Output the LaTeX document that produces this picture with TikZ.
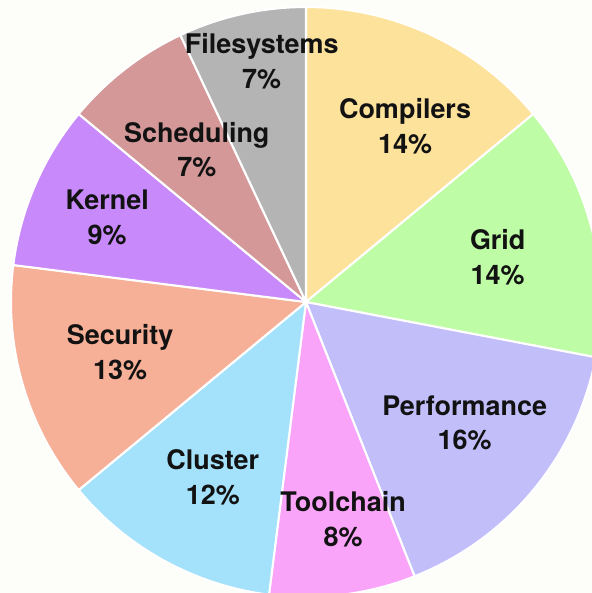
\documentclass[tikz,border=0pt]{standalone}
\usepackage{fontspec}
\setsansfont{TeX Gyre Heros}
\usepackage{tikz}
\usetikzlibrary{positioning}

\definecolor{bgcol}{HTML}{FDFDF9}
\definecolor{compcol}{HTML}{FDE29C}
\definecolor{gridcol}{HTML}{BEFCA5}
\definecolor{perfcol}{HTML}{C1BEFA}
\definecolor{toolcol}{HTML}{F9A4F8}
\definecolor{clustcol}{HTML}{A4E1FA}
\definecolor{seccol}{HTML}{F7B098}
\definecolor{kerncol}{HTML}{C889FA}
\definecolor{schedcol}{HTML}{D49898}
\definecolor{fscol}{HTML}{B4B4B4}
\definecolor{txtcol}{HTML}{121212}

\begin{document}
\begin{tikzpicture}[
  slice/.style={draw=white, line width=1pt, line join=round},
  slicelabel/.style={font=\sffamily\bfseries\fontsize{13}{16.8}\selectfont, text=txtcol, align=center, inner sep=0pt}
]
%\draw[help lines] (-5,-5) grid (5,5);
\clip (-5.186,-4.932) rectangle (4.847,5.119);
\fill [bgcol] (-5.186,-4.932) rectangle (4.847,5.119);

\coordinate (O) at (0,0);
\filldraw [slice, fill=compcol] (O) -- (90:5) arc [start angle=90, end angle=39.6, radius=5] -- cycle;
\filldraw [slice, fill=gridcol] (O) -- (39.6:5) arc [start angle=39.6, end angle=-10.8, radius=5] -- cycle;
\filldraw [slice, fill=perfcol] (O) -- (-10.8:5) arc [start angle=-10.8, end angle=-68.4, radius=5] -- cycle;
\filldraw [slice, fill=toolcol] (O) -- (-68.4:5) arc [start angle=-68.4, end angle=-97.2, radius=5] -- cycle;
\filldraw [slice, fill=clustcol] (O) -- (-97.2:5) arc [start angle=-97.2, end angle=-140.4, radius=5] -- cycle;
\filldraw [slice, fill=seccol] (O) -- (-140.4:5) arc [start angle=-140.4, end angle=-187.2, radius=5] -- cycle;
\filldraw [slice, fill=kerncol] (O) -- (-187.2:5) arc [start angle=-187.2, end angle=-219.6, radius=5] -- cycle;
\filldraw [slice, fill=schedcol] (O) -- (-219.6:5) arc [start angle=-219.6, end angle=-244.8, radius=5] -- cycle;
\filldraw [slice, fill=fscol] (O) -- (-244.8:5) arc [start angle=-244.8, end angle=-270, radius=5] -- cycle;

\node [slicelabel] (compilers) at (1.68,2.98) {Compilers\\14\%};
\node [slicelabel] (grid) at (3.25,0.76) {Grid\\14\%};
\node [slicelabel] (performance) at (2.69,-2.05) {Performance\\16\%};
\node [slicelabel] (toolchain) at (0.63,-3.68) {Toolchain\\8\%};
\node [slicelabel] (cluster) at (-1.58,-2.97) {Cluster\\12\%};
\node [slicelabel] (security) at (-3.15,-0.85) {Security\\13\%};
\node [slicelabel] (kernel) at (-3.37,1.44) {Kernel\\9\%};
\node [slicelabel] (scheduling) at (-1.85,2.58) {Scheduling\\7\%};
\node [slicelabel] (filesystems) at (-0.75,4.08) {Filesystems\\7\%};

\end{tikzpicture}
\end{document}
